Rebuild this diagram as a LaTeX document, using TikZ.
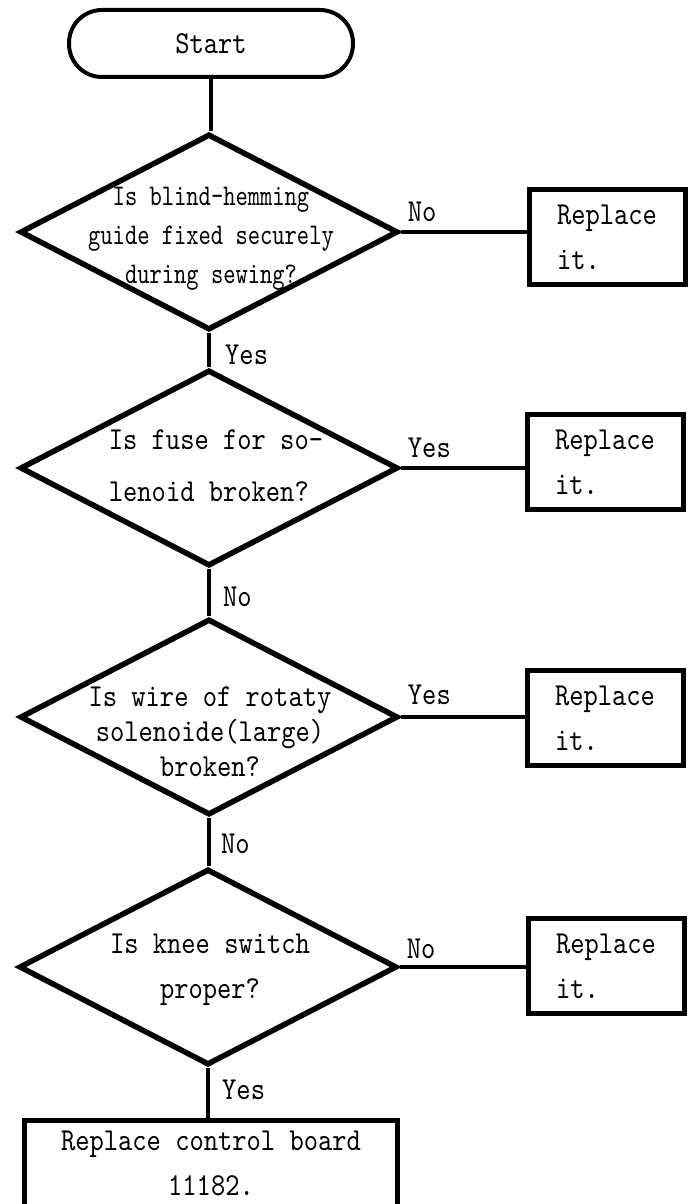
\documentclass[tikz,border=0pt]{standalone}
\usepackage{fontspec}
\newfontfamily\monoa[FakeStretch=0.85,Extension=.otf]{lmmono10-regular}
\newfontfamily\monob[FakeStretch=0.78,Extension=.otf]{lmmono10-regular}
\usetikzlibrary{shapes.geometric,calc}
\begin{document}
\begin{tikzpicture}[x=1pt,y=-1pt,
  dia/.style={draw, shape=diamond, line width=5.5pt, minimum width=378pt, minimum height=196pt, inner sep=0pt},
  txt/.style={inner sep=0pt, font=\monoa\fontsize{32}{45}\selectfont},
  rbox/.style={draw, line width=5pt, minimum width=156pt, minimum height=95pt, inner sep=0pt, align=left, font=\monoa\fontsize{32}{45}\selectfont},
  term/.style={draw, line width=4pt, rounded corners=33pt, minimum width=284pt, minimum height=67pt, inner sep=0pt, font=\monoa\fontsize{32}{36}\selectfont},
  conn/.style={line width=4.5pt},
  lab/.style={inner sep=0pt, font=\monoa\fontsize{32}{36}\selectfont}]
\useasboundingbox (0,0) rectangle (689,1204);
\clip (0,0) rectangle (689,1204);

\node[term] (start) at (211,43.5) {Start};

\node[dia] (d1) at (209,232) {};
\node[txt, align=center, font=\monob\fontsize{30}{39}\selectfont] (d1t) at (211,239) {Is blind-hemming\\guide fixed securely\\during sewing?};
\node[dia] (d2) at (209,468) {};
\node[txt, align=left, font=\monoa\fontsize{32}{52}\selectfont] (d2t) at (216,466) {Is fuse for so-\\lenoid broken?};
\node[dia] (d3) at (209,717) {};
\node[txt, align=center, font=\monoa\fontsize{32}{35}\selectfont] (d3t) at (210,732) {Is wire of rotaty\\solenoide(large)\\broken?};
\node[dia] (d4) at (208,967) {};
\node[txt, align=center, font=\monoa\fontsize{32}{45}\selectfont] (d4t) at (210,970) {Is knee switch\\proper?};

\node[rbox] (b1) at (607,237) {Replace\\it.};
\node[rbox] (b2) at (605,462) {Replace\\it.};
\node[rbox] (b3) at (605,718) {Replace\\it.};
\node[rbox] (b4) at (606,966) {Replace\\it.};

\node[rbox, minimum width=373pt, minimum height=100pt] (fin) at (211,1170) {};
\node[txt, align=center] (fint) at (211,1163) {Replace control board\\11182.};

\draw[conn] (start.south) -- (start.south |- d1.north);
\draw[conn] (d1.south) -- (d1.south |- d2.north);
\draw[conn] (d2.south) -- (d2.south |- d3.north);
\draw[conn] (d3.south) -- (d3.south |- d4.north);
\draw[conn] (d4.south) -- (d4.south |- fin.north);

\draw[conn] (d1.east) -- (d1.east -| b1.west);
\draw[conn] (d2.east) -- (d2.east -| b2.west);
\draw[conn] (d3.east) -- (d3.east -| b3.west);
\draw[conn] (d4.east) -- (d4.east -| b4.west);

\node[lab, anchor=west] (l1) at ($(d1.east)+(7,-20)$) {No};
\node[lab, anchor=west] (l2) at ($(d2.east)+(7,-20)$) {Yes};
\node[lab, anchor=west] (l3) at ($(d3.east)+(7,-22)$) {Yes};
\node[lab, anchor=west] (l4) at ($(d4.east)+(7,-18)$) {No};

\node[lab, anchor=west] (v1) at ($(d1.south)+(16,22)$) {Yes};
\node[lab, anchor=west] (v2) at ($(d2.south)+(14,28)$) {No};
\node[lab, anchor=west] (v3) at ($(d3.south)+(12,26)$) {No};
\node[lab, anchor=west] (v4) at ($(d4.south)+(14,22)$) {Yes};
\end{tikzpicture}
\end{document}
